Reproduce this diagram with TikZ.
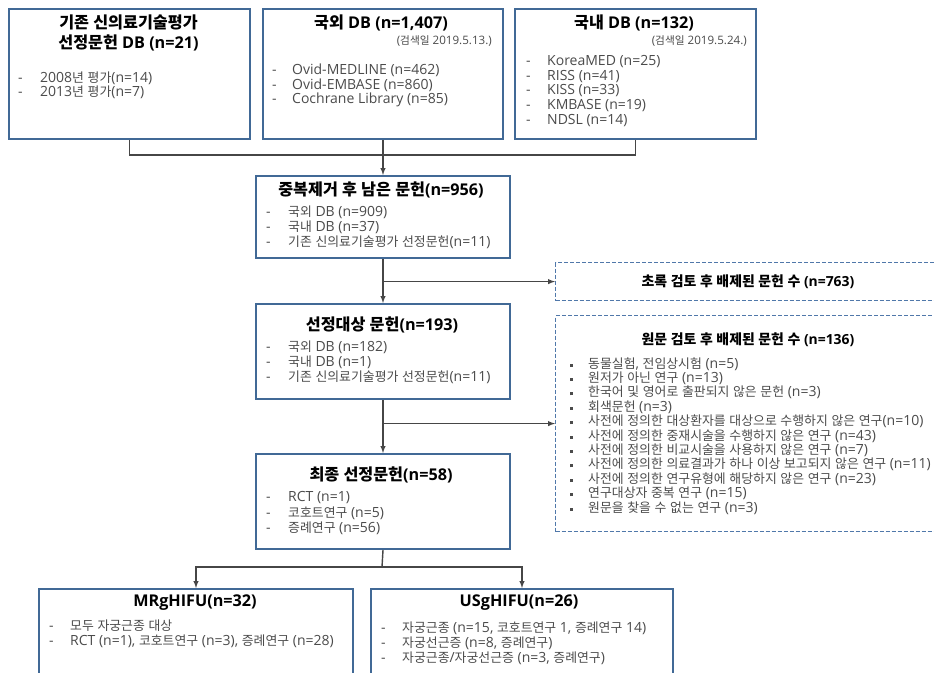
\documentclass[tikz,border=0pt]{standalone}
\usepackage{fontspec}
\setmainfont{Open Sans}
\newfontfamily\krfont{Noto Sans CJK KR}
\newfontfamily\krsmall[Scale=0.92]{Noto Sans CJK KR}
\let\krcur\krfont
% hangul syllables switch to the Korean font
\XeTeXinterchartokenstate=1
\chardef\hangulclass=10
\count255="AC00
\loop \XeTeXcharclass\count255=\hangulclass \ifnum\count255<"D7A3 \advance\count255 by 1 \repeat
\XeTeXinterchartoks 0 \hangulclass = {\begingroup\krcur}
\XeTeXinterchartoks 4095 \hangulclass = {\begingroup\krcur}
\XeTeXinterchartoks \hangulclass 0 = {\endgroup}
\XeTeXinterchartoks \hangulclass 4095 = {\endgroup}
\usetikzlibrary{positioning}
\definecolor{boxblue}{RGB}{65,105,150}
\definecolor{dashblue}{RGB}{80,120,170}
\definecolor{linegray}{RGB}{70,70,70}
\definecolor{itemgray}{RGB}{75,75,75}
\newcommand{\listrows}[7]{%
  \foreach \row [count=\i] in {#7}{%
    \node[itemtext] (#1-m\i) at (#3, {#5+#6*(\i-1)}) {#2};
    \node[itemtext] (#1-t\i) at (#4, {#5+#6*(\i-1)}) {\row};
  }}

\begin{document}
\begin{tikzpicture}[x=1pt, y=-1pt,
  bluebox/.style={draw=boxblue, line width=2pt, fill=white, anchor=north west, inner sep=0pt},
  dashbox/.style={draw=dashblue, line width=1.2pt, dash pattern=on 4pt off 2pt, anchor=north west, inner sep=0pt},
  title/.style={font=\bfseries\fontsize{16.2}{20}\selectfont, align=center, inner sep=0pt},
  subtitle/.style={font=\bfseries\fontsize{13.9}{15}\selectfont, inner sep=0pt},
  datetext/.style={font=\let\krcur\krsmall\fontsize{11.6}{12}\selectfont, text=itemgray, anchor=east, inner sep=0pt},
  itemtext/.style={font=\let\krcur\krsmall\fontsize{14}{14}\selectfont, text=itemgray, anchor=west, inner sep=0pt, text height=10.5pt, text depth=3.5pt},
  link/.style={draw=linegray, line width=1.4pt},
  arrow/.style={link, -latex}]
\useasboundingbox (0,0) rectangle (934,672);
\clip (0,0) rectangle (934,672);

% sources
\node[bluebox, minimum width=241pt, minimum height=130pt] (old) at (8,8) {};
\node[bluebox, minimum width=240pt, minimum height=130pt] (abroad) at (262,8) {};
\node[bluebox, minimum width=241pt, minimum height=130pt] (korea) at (514,8) {};
\node[title] (old-h) at (128.5,33) {기존 신의료기술평가\\선정문헌 DB (n=21)};
\node[title] (abroad-h) at (381,23) {국외 DB (n=1,407)};
\node[title] (korea-h) at (634,23) {국내 DB (n=132)};
\node[datetext] (abroad-d) at (492,41) {(검색일 2019.5.13.)};
\node[datetext] (korea-d) at (747,41) {(검색일 2019.5.24.)};
\listrows{old}{-}{18}{40}{79}{14}{2008년 평가(n=14), 2013년 평가(n=7)}
\listrows{abroad}{-}{272}{292}{71}{14.5}{Ovid-MEDLINE (n=462), Ovid-EMBASE (n=860), Cochrane Library (n=85)}
\listrows{korea}{-}{526}{547}{62}{14.7}{KoreaMED (n=25), RISS (n=41), KISS (n=33), KMBASE (n=19), NDSL (n=14)}

% screening steps
\node[bluebox, minimum width=254pt, minimum height=82pt] (dedup) at (255,175) {};
\node[title] (dedup-h) at (381,190) {중복제거 후 남은 문헌(n=956)};
\listrows{dedup}{-}{266}{288}{213}{15}{국외 DB (n=909), 국내 DB (n=37), 기존 신의료기술평가 선정문헌(n=11)}

\node[bluebox, minimum width=254pt, minimum height=95pt] (select) at (255,303) {};
\node[title] (select-h) at (382,325) {선정대상 문헌(n=193)};
\listrows{select}{-}{266}{288}{348}{15}{국외 DB (n=182), 국내 DB (n=1), 기존 신의료기술평가 선정문헌(n=11)}

\node[bluebox, minimum width=254pt, minimum height=95pt] (final) at (255,453) {};
\node[title] (final-h) at (381,475) {최종 선정문헌(n=58)};
\listrows{final}{-}{266}{288}{498}{15.5}{RCT (n=1), 코호트연구 (n=5), 증례연구 (n=56)}

% exclusions
\node[dashbox, minimum width=386pt, minimum height=38pt] (absex) at (555,262) {};
\node[subtitle] (absex-h) at (748,282) {초록 검토 후 배제된 문헌 수 (n=763)};
\node[dashbox, minimum width=386pt, minimum height=216pt] (fullex) at (555,315) {};
\node[subtitle] (fullex-h) at (748,340) {원문 검토 후 배제된 문헌 수 (n=136)};
\listrows{fullex}{\rule[1.5pt]{3pt}{3pt}}{570}{588}{364.5}{14.4}{{동물실험, 전임상시험 (n=5)}, 원저가 아닌 연구 (n=13),
  한국어 및 영어로 출판되지 않은 문헌 (n=3), 회색문헌 (n=3),
  사전에 정의한 대상환자를 대상으로 수행하지 않은 연구(n=10),
  사전에 정의한 중재시술을 수행하지 않은 연구 (n=43),
  사전에 정의한 비교시술을 사용하지 않은 연구 (n=7),
  사전에 정의한 의료결과가 하나 이상 보고되지 않은 연구 (n=11),
  사전에 정의한 연구유형에 해당하지 않은 연구 (n=23),
  연구대상자 중복 연구 (n=15), 원문을 찾을 수 없는 연구 (n=3)}

% device groups
\node[bluebox, minimum width=314pt, minimum height=100pt] (mrg) at (38,588) {};
\node[title] (mrg-h) at (195,603) {MRgHIFU(n=32)};
\listrows{mrg}{-}{49}{70}{627}{15}{모두 자궁근종 대상, {RCT (n=1), 코호트연구 (n=3), 증례연구 (n=28)}}
\node[bluebox, minimum width=302pt, minimum height=100pt] (usg) at (370,588) {};
\node[title] (usg-h) at (519,603) {USgHIFU(n=26)};
\listrows{usg}{-}{381}{402}{629}{15}{{자궁근종 (n=15, 코호트연구 1, 증례연구 14)}, {자궁선근증 (n=8, 증례연구)}, {자궁근종/자궁선근증 (n=3, 증례연구)}}

% connectors
\coordinate (merge) at (382,155);
\draw[link] (old.south) |- (merge);
\draw[link] (korea.south) |- (merge);
\draw[arrow] (abroad.south) -- (dedup.north);
\draw[arrow] (dedup.south) -- (select.north);
\coordinate (split1) at (dedup.south |- absex.west);
\draw[arrow] (split1) -- (absex.west);
\draw[arrow] (select.south) -- (final.north);
\coordinate (split2) at (select.south |- fullex.west);
\draw[arrow] (split2) -- (fullex.west);
\coordinate (fork) at (382,567);
\draw[link] (final.south) -- (fork);
\draw[arrow] (fork) -| (mrg.north);
\draw[arrow] (fork) -| (usg.north);
\end{tikzpicture}
\end{document}
